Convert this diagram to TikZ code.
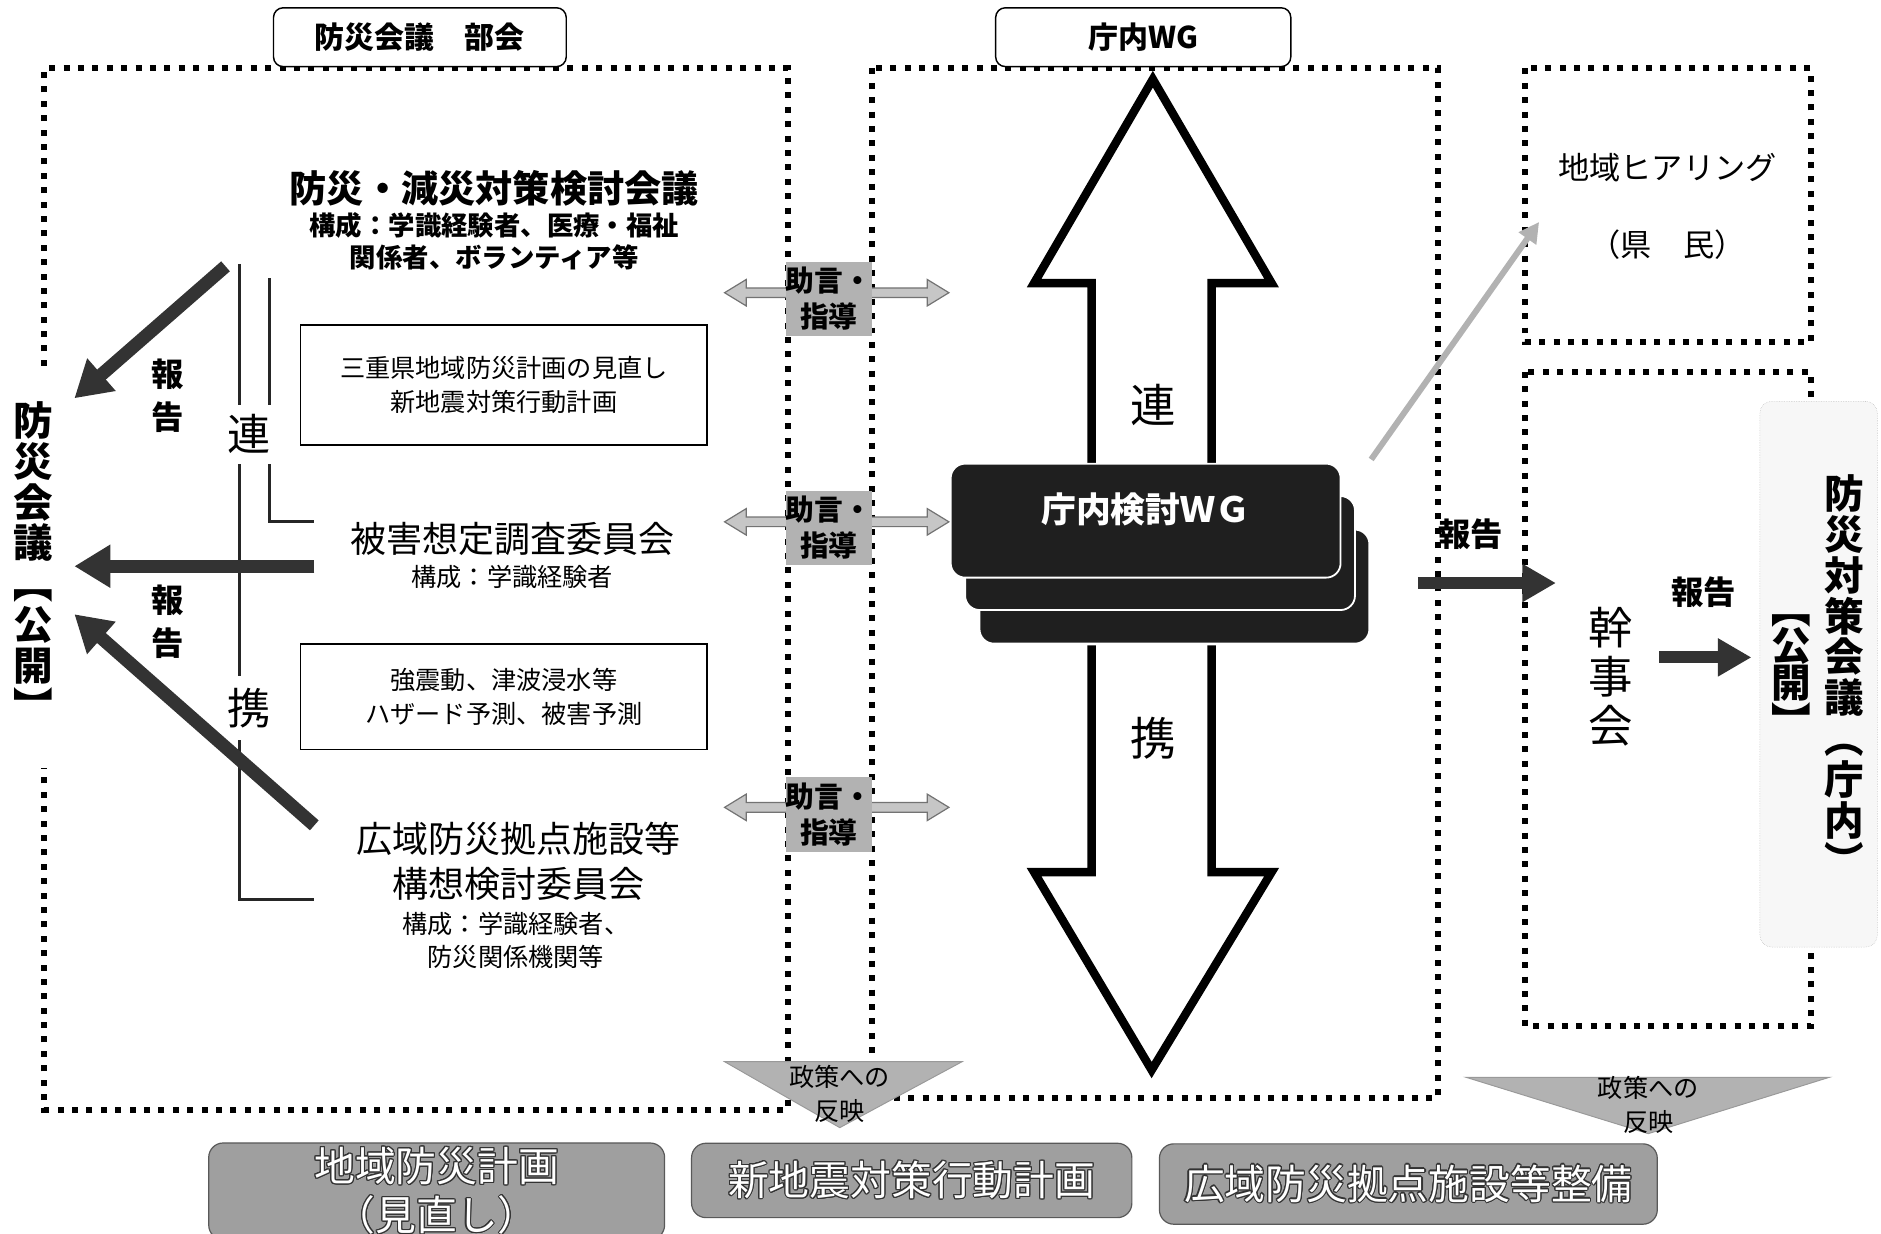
\documentclass[tikz,border=0pt]{standalone}
\usepackage{fontspec}
\setmainfont{Noto Sans CJK JP}
\usepackage{contour}
\usetikzlibrary{arrows.meta}
\contourlength{0.9pt}
\newcommand{\jfont}[2]{\fontsize{#1pt}{#2pt}\selectfont}
\newcommand{\outl}[1]{\textcolor{white}{\contour{black!80}{#1}}}

\tikzset{
	dotframe/.style={line width=5pt, dash pattern=on 5pt off 7pt},
	tagbox/.style={draw, line width=1.2pt, rounded corners=8pt, fill=white, minimum height=49pt, font=\bfseries\jfont{25}{30}},
	planbox/.style={draw, line width=1.2pt, align=center, font=\jfont{21}{28}},
	linkline/.style={line width=2.5pt, black!85},
	repline/.style={line width=11pt, black!80, -{Triangle[length=30pt,width=34pt]}},
	advarrow/.style={fill=gray!45, draw=black!55, line width=1pt},
	advbox/.style={fill=gray!60, align=center, inner sep=0pt, minimum width=72pt, minimum height=62pt, font=\bfseries\jfont{24}{30}},
	wgbox/.style={fill=black!88, draw=white, line width=1.5pt, rounded corners=12pt, minimum width=325pt, minimum height=95pt},
	hollow/.style={line width=7pt, fill=white},
	reflecttri/.style={fill=gray!60, draw=gray!80, line width=0.8pt},
	resultbox/.style={fill=gray!75, draw=black!65, line width=1pt, rounded corners=12pt, align=center, font=\jfont{34}{41}},
	vtext/.style={align=center, inner sep=0pt, font=\bfseries\jfont{33}{34}},
}

\begin{document}
\begin{tikzpicture}[x=1pt, y=-1pt]
	\useasboundingbox (0,0) rectangle (1568,1028);

	% dotted frames
	\draw[dotframe] (37,305) -- (37,57) -- (657,57) -- (657,925) -- (37,925) -- (37,640);
	\draw[dotframe] (727,57) rectangle (1199,915);
	\draw[dotframe] (1271,57) rectangle (1510,285);
	\draw[dotframe] (1271,310) rectangle (1510,855);

	\node[tagbox, minimum width=244pt] (bukai) at (350,31) {防災会議　部会};
	\node[tagbox, minimum width=246pt] (chonai) at (953,31) {庁内WG};

	% left side
	\node[align=center, font=\bfseries\jfont{31}{36}] (bousai) at (412,157) {防災・減災対策検討会議};
	\node[align=center, font=\bfseries\jfont{22}{27}] (bousaisub) at (412,201) {構成：学識経験者、医療・福祉\\関係者、ボランティア等};
	\node[planbox, minimum width=339pt, minimum height=100pt] (mie) at (420,321) {三重県地域防災計画の見直し\\新地震対策行動計画};
	\node[font=\jfont{30}{36}] (higai) at (427,449) {被害想定調査委員会};
	\node[font=\jfont{21}{26}] (higaisub) at (427,481) {構成：学識経験者};
	\node[planbox, minimum width=339pt, minimum height=88pt] (hazard) at (420,581) {強震動、津波浸水等\\ハザード予測、被害予測};
	\node[align=center, font=\jfont{30}{37}] (kouiki) at (432,718) {広域防災拠点施設等\\構想検討委員会};
	\node[align=center, font=\jfont{21}{27}] (kouikisub) at (430,784) {構成：学識経験者、\\防災関係機関等};

	\draw[linkline] (200,220) -- (200,750) -- (262,750);
	\draw[linkline] (225,232) -- (225,435) -- (262,435);
	\node[fill=white, inner xsep=3pt, inner ysep=8pt, font=\jfont{36}{40}] (ren) at (208,362) {連};
	\node[fill=white, inner xsep=3pt, inner ysep=10pt, font=\jfont{36}{40}] (kei) at (208,590) {携};

	\node[vtext] (kaigi) at (28,468) {防\\災\\会\\議\\︻\\公\\開\\︼};
	\node[align=center, font=\bfseries\jfont{27}{36}] (rep1) at (140,330) {報\\告};
	\node[align=center, font=\bfseries\jfont{27}{36}] (rep2) at (140,518) {報\\告};

	\coordinate (r1a) at (188,222);
	\coordinate (r1b) at (62,332);
	\coordinate (r2a) at (262,472);
	\coordinate (r2b) at (62,472);
	\coordinate (r3a) at (262,688);
	\coordinate (r3b) at (62,512);
	\draw[repline] (r1a) -- (r1b);
	\draw[repline] (r2a) -- (r2b);
	\draw[repline] (r3a) -- (r3b);

	% advice arrows
	\foreach \y/\n/\t in {244/1/249,435/2/440,673/3/679}{
		\filldraw[advarrow] (604,\y) -- (622,\y-11) -- (622,\y-4) -- (773,\y-4) -- (773,\y-11) -- (791,\y)
			-- (773,\y+11) -- (773,\y+4) -- (622,\y+4) -- (622,\y+11) -- cycle;
		\node[advbox] (adv\n) at (691,\t) {助言・\\指導};
	}

	% WG
	\filldraw[hollow] (910,388) -- (910,236) -- (862,236) -- (961,66) -- (1060,236) -- (1010,236) -- (1010,388);
	\filldraw[hollow] (910,538) -- (910,727) -- (862,727) -- (960,892) -- (1060,727) -- (1010,727) -- (1010,538);
	\node[font=\jfont{38}{42}] (ren2) at (961,338) {連};
	\node[font=\jfont{38}{42}] (kei2) at (961,615) {携};

	\node[wgbox] (wg3) at (979,489) {};
	\node[wgbox] (wg2) at (967,461) {};
	\node[wgbox] (wg) at (955,434) {};
	\node[text=white, font=\bfseries\jfont{29}{34}] (wglabel) at (955,425) {庁内検討ＷＧ};

	% right side
	\node[font=\jfont{26}{30}] (hearing) at (1390,140) {地域ヒアリング};
	\node[font=\jfont{26}{30}] (kenmin) at (1390,204) {（県　民）};
	\coordinate (hs) at (1143,383);
	\coordinate (he) at (1283,185);
	\draw[line width=5pt, gray!60, -{Triangle[length=17pt,width=17pt]}] (hs) -- (he);

	\node[font=\bfseries\jfont{27}{30}] (rep3) at (1226,445) {報告};
	\coordinate (r4a) at (1182,486);
	\coordinate (r4b) at (1297,486);
	\draw[line width=10pt, black!80, -{Triangle[length=28pt,width=30pt]}] (r4a) -- (r4b);

	\node[align=center, font=\jfont{37}{41}] (kanji) at (1343,564) {幹\\事\\会};
	\node[font=\bfseries\jfont{27}{30}] (rep4) at (1420,494) {報告};
	\coordinate (r5a) at (1383,548);
	\coordinate (r5b) at (1460,548);
	\draw[line width=10pt, black!80, -{Triangle[length=28pt,width=30pt]}] (r5a) -- (r5b);

	\node[draw=gray!60, densely dotted, rounded corners=10pt, fill=gray!6, minimum width=98pt, minimum height=455pt] (taisakubox) at (1516,562) {};
	\node[vtext] (taisaku) at (1537,563) {防\\災\\対\\策\\会\\議\\︵\\庁\\内\\︶};
	\node[vtext, font=\bfseries\jfont{33}{31}] (kokai) at (1493,563) {︻\\公\\開\\︼};

	% reflection to policy
	\filldraw[reflecttri] (604,885) -- (802,885) -- (700,940) -- cycle;
	\node[align=center, font=\jfont{21}{28}] (refl1) at (700,912) {政策への\\反映};
	\filldraw[reflecttri] (1222,898) -- (1525,898) -- (1374,945) -- cycle;
	\node[align=center, font=\jfont{21}{28}] (refl2) at (1374,921) {政策への\\反映};

	\node[resultbox, minimum width=380pt, minimum height=80pt] (plan1) at (364,993) {\outl{地域防災計画}\\\outl{（見直し）}};
	\node[resultbox, minimum width=367pt, minimum height=62pt] (plan2) at (760,984) {\outl{新地震対策行動計画}};
	\node[resultbox, minimum width=415pt, minimum height=67pt] (plan3) at (1174,987) {\outl{広域防災拠点施設等整備}};
\end{tikzpicture}
\end{document}
